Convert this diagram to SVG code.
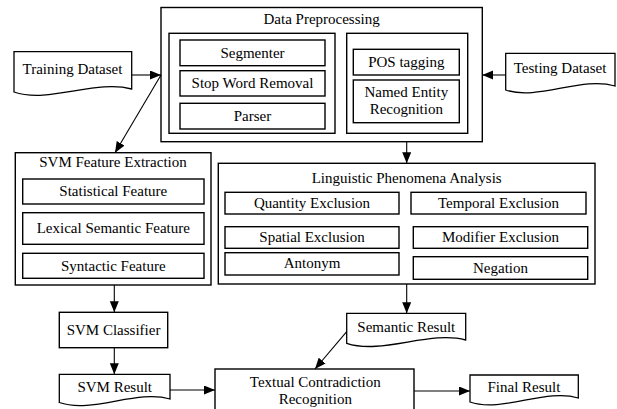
<svg xmlns="http://www.w3.org/2000/svg" width="617" height="409" viewBox="0 0 617 409" font-family="Liberation Serif, Tinos, Times New Roman, DejaVu Serif, serif">
<style>
.box{fill:#fff;stroke:#000;stroke-width:1.4}
.grp{fill:none;stroke:#000;stroke-width:1.4}
.doc{fill:#fff;stroke:#000;stroke-width:1.3}
text{font-size:15px;fill:#000;text-anchor:middle}
.c{fill:none;stroke:#000;stroke-width:1.1;marker-end:url(#ah)}
</style>
<defs>
<marker id="ah" markerUnits="userSpaceOnUse" markerWidth="12" markerHeight="10" refX="11" refY="4.5" orient="auto" viewBox="0 0 12 10">
<path d="M0,0 L11,4.5 L0,9 z" fill="#000"/>
</marker>
</defs>
<rect width="617" height="409" fill="#fff"/>

<g id="data-preprocessing">
<rect class="box" x="161" y="7.5" width="321.3" height="134.2"/>
<text x="321.6" y="24">Data Preprocessing</text>
<rect class="grp" x="169" y="33.3" width="166" height="100"/>
<rect class="grp" x="346.7" y="33.3" width="121" height="100"/>
</g>
<g id="segmenter"><rect class="box" x="180" y="40" width="145" height="25.7"/><text x="252.5" y="58">Segmenter</text></g>
<g id="stop-word-removal"><rect class="box" x="180" y="70.7" width="145" height="25.3"/><text x="252.5" y="88">Stop Word Removal</text></g>
<g id="parser"><rect class="box" x="180" y="103.3" width="145" height="25.7"/><text x="252.5" y="121">Parser</text></g>
<g id="pos-tagging"><rect class="box" x="353.3" y="49.3" width="106" height="25.7"/><text x="406.3" y="67">POS tagging</text></g>
<g id="ner"><rect class="box" x="353.3" y="80" width="106" height="42.7"/><text x="406.3" y="96.7">Named Entity</text><text x="406.3" y="114">Recognition</text></g>

<g id="training-dataset">
<path class="doc" d="M14,51.7 H131.7 V89 C96,79 49,104 14,92 Z"/>
<text x="72.5" y="74">Training Dataset</text>
</g>
<g id="testing-dataset">
<path class="doc" d="M505.7,53.3 H615 V86 C582,76 538,101 505.7,90 Z"/>
<text x="560" y="73.3">Testing Dataset</text>
</g>

<g id="svm-feature-extraction">
<rect class="box" x="15.3" y="152.7" width="195.7" height="132.3"/>
<text x="113" y="167.3">SVM Feature Extraction</text>
</g>
<g id="statistical-feature"><rect class="box" x="22.7" y="179" width="181.3" height="25"/><text x="113.3" y="196.3">Statistical Feature</text></g>
<g id="lexical-semantic-feature"><rect class="box" x="22.7" y="212.7" width="181.3" height="31.6"/><text x="113.3" y="233.4">Lexical Semantic Feature</text></g>
<g id="syntactic-feature"><rect class="box" x="22.7" y="253.3" width="181.3" height="25"/><text x="113.3" y="270.8">Syntactic Feature</text></g>

<g id="linguistic-phenomena-analysis">
<rect class="box" x="218.3" y="163.3" width="376.7" height="120.7"/>
<text x="406.7" y="182.7">Linguistic Phenomena Analysis</text>
</g>
<g id="quantity-exclusion"><rect class="box" x="225" y="192.3" width="174" height="21.7"/><text x="312" y="207.8">Quantity Exclusion</text></g>
<g id="temporal-exclusion"><rect class="box" x="411" y="192.3" width="175" height="21.7"/><text x="498.5" y="207.8">Temporal Exclusion</text></g>
<g id="spatial-exclusion"><rect class="box" x="225" y="226.7" width="174" height="21.6"/><text x="312" y="241.9">Spatial Exclusion</text></g>
<g id="modifier-exclusion"><rect class="box" x="413.3" y="226.7" width="174.4" height="21.6"/><text x="500.5" y="241.9">Modifier Exclusion</text></g>
<g id="antonym"><rect class="box" x="225" y="252.7" width="174" height="22.3"/><text x="312" y="268.4">Antonym</text></g>
<g id="negation"><rect class="box" x="413.3" y="256.7" width="174.4" height="22.6"/><text x="500.5" y="272.5">Negation</text></g>

<g id="svm-classifier"><rect class="box" x="59.3" y="312.3" width="108.4" height="35.4"/><text x="113.5" y="335">SVM Classifier</text></g>
<g id="svm-result">
<path class="doc" d="M59.3,374.3 H170 V399 C137,389 92,414 59.3,402.5 Z"/>
<text x="114.7" y="391.7">SVM Result</text>
</g>
<g id="semantic-result">
<path class="doc" d="M346.7,313.3 H465.7 V340 C430,330 382,355 346.7,343.3 Z"/>
<text x="406.3" y="331.7">Semantic Result</text>
</g>
<g id="textual-contradiction-recognition">
<rect class="box" x="215" y="369" width="199" height="45"/>
<text x="315.3" y="386.7">Textual Contradiction</text>
<text x="315.3" y="404.3">Recognition</text>
</g>
<g id="final-result">
<path class="doc" d="M470,375 H578.3 V398 C546,388 502,413 470,402 Z"/>
<text x="524" y="391.7">Final Result</text>
</g>

<g id="connectors">
<line class="c" x1="131.7" y1="75" x2="161" y2="75"/>
<line class="c" x1="505.7" y1="75" x2="482.3" y2="75"/>
<line class="c" x1="161" y1="75" x2="115" y2="152.7"/>
<line class="c" x1="406.7" y1="141.7" x2="406.7" y2="163.3"/>
<line class="c" x1="114.3" y1="285" x2="114.3" y2="312.3"/>
<line class="c" x1="114.3" y1="347.7" x2="114.3" y2="374.3"/>
<line class="c" x1="170" y1="390" x2="215" y2="390"/>
<line class="c" x1="406.7" y1="284" x2="406.7" y2="313.3"/>
<line class="c" x1="346.7" y1="331.7" x2="315" y2="369"/>
<line class="c" x1="414" y1="391" x2="470" y2="391"/>
</g>
</svg>
